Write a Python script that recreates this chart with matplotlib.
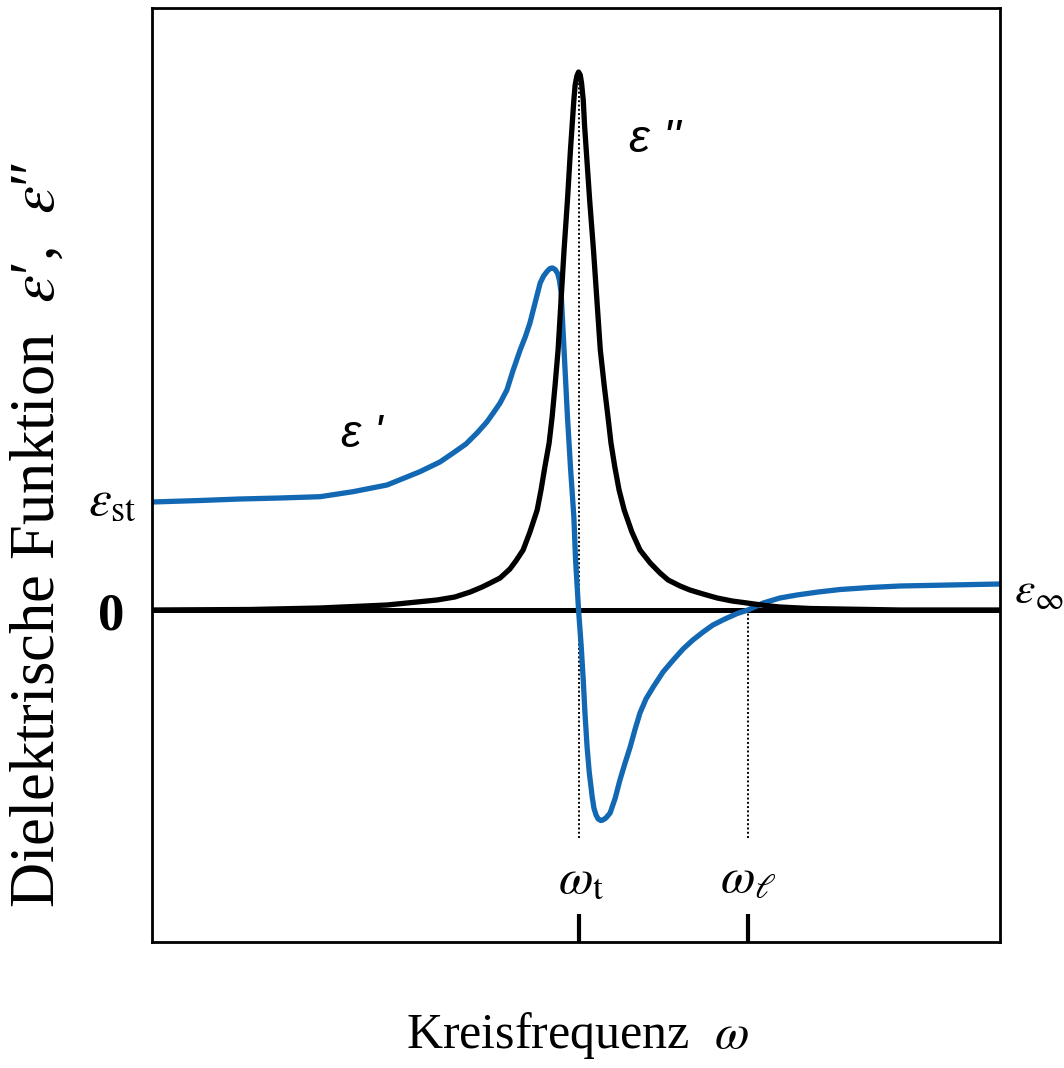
import matplotlib
matplotlib.use("Agg")
import matplotlib.pyplot as plt
import matplotlib.transforms as mtransforms

plt.rcParams['font.family'] = ['Liberation Serif', 'DejaVu Serif']
plt.rcParams['mathtext.fontset'] = 'stix'

# Frequencies in units of the transverse resonance omega_t
omega_t = 1.0
omega_l = 1.397
eps_st = 1.08
eps_inf = 0.26
eps_im_peak = 5.38
marker_depth = -2.28

# Real part eps'
omega_re = [0.000, 0.113, 0.206, 0.300, 0.394, 0.471, 0.551, 0.628, 0.675, 0.706,
            0.736, 0.762, 0.785, 0.800, 0.816, 0.832, 0.846, 0.863, 0.875, 0.886,
            0.898, 0.910, 0.918, 0.926, 0.933, 0.939, 0.945, 0.951, 0.955, 0.959,
            0.966, 0.974, 0.981, 0.989, 0.993, 1.000, 1.006, 1.011, 1.015, 1.020,
            1.025, 1.032, 1.036, 1.041, 1.046, 1.052, 1.057, 1.064, 1.074, 1.086,
            1.097, 1.109, 1.121, 1.132, 1.144, 1.158, 1.175, 1.198, 1.222, 1.245,
            1.268, 1.292, 1.315, 1.343, 1.372, 1.397, 1.433, 1.472, 1.512, 1.562,
            1.613, 1.683, 1.754, 1.871, 1.988]
eps_re = [1.08, 1.095, 1.11, 1.12, 1.133, 1.183, 1.25, 1.383, 1.48, 1.57,
          1.66, 1.77, 1.88, 1.97, 2.07, 2.20, 2.39, 2.60, 2.73, 2.87,
          3.07, 3.27, 3.34, 3.385, 3.415, 3.42, 3.405, 3.365, 3.30, 3.18,
          2.60, 1.93, 1.43, 0.93, 0.50, 0.00, -0.35, -0.70, -1.03, -1.37,
          -1.62, -1.87, -1.98, -2.05, -2.09, -2.105, -2.10, -2.08, -2.03, -1.88,
          -1.70, -1.53, -1.37, -1.20, -1.03, -0.89, -0.77, -0.62, -0.50, -0.39,
          -0.30, -0.22, -0.15, -0.09, -0.035, 0.00, 0.07, 0.12, 0.15, 0.18,
          0.205, 0.225, 0.24, 0.25, 0.26]

# Imaginary part eps''
omega_im = [0.000, 0.230, 0.394, 0.551, 0.668, 0.710, 0.746, 0.774, 0.793, 0.816,
            0.839, 0.853, 0.870, 0.886, 0.903, 0.912, 0.921, 0.931, 0.938, 0.945,
            0.952, 0.959, 0.966, 0.974, 0.981, 0.985, 0.989, 0.992, 0.996, 1.000,
            1.004, 1.007, 1.011, 1.014, 1.018, 1.026, 1.035, 1.043, 1.051, 1.060,
            1.069, 1.076, 1.085, 1.095, 1.107, 1.125, 1.144, 1.168, 1.191, 1.210,
            1.238, 1.261, 1.292, 1.325, 1.360, 1.395, 1.437, 1.472, 1.543, 1.613,
            1.754, 1.988]
eps_im = [0.00, 0.005, 0.02, 0.05, 0.10, 0.13, 0.18, 0.23, 0.27, 0.32,
          0.41, 0.49, 0.60, 0.78, 1.00, 1.20, 1.43, 1.67, 1.93, 2.25,
          2.60, 3.10, 3.60, 4.10, 4.60, 4.85, 5.10, 5.25, 5.34, 5.38,
          5.35, 5.27, 5.10, 4.85, 4.60, 4.10, 3.60, 3.10, 2.60, 2.25,
          1.93, 1.67, 1.43, 1.20, 1.00, 0.78, 0.60, 0.47, 0.37, 0.30,
          0.24, 0.20, 0.16, 0.12, 0.09, 0.07, 0.045, 0.03, 0.015, 0.01,
          0.00, 0.00]

blue = '#1268b3'

fig = plt.figure(figsize=(10.64, 10.68), dpi=100)
ax = fig.add_axes([152 / 1064, 1 - 942 / 1068, 848 / 1064, 934 / 1068])
ax.set_xlim(0, 1.988)
ax.set_ylim(-3.32, 6.02)

for s in ax.spines.values():
    s.set_linewidth(2.0)

ax.axhline(0, color='black', lw=3.6, zorder=1)
ax.vlines(omega_t, marker_depth, eps_im_peak, colors='black', linestyles=(0, (1, 1.2)),
          lw=1.4, zorder=1)
ax.vlines(omega_l, marker_depth, 0, colors='black', linestyles=(0, (1, 1.2)),
          lw=1.4, zorder=1)

ax.plot(omega_re, eps_re, color=blue, lw=3.8, solid_joinstyle='round',
        solid_capstyle='butt', zorder=2)
ax.plot(omega_im, eps_im, color='black', lw=3.8, solid_joinstyle='round',
        solid_capstyle='butt', zorder=3)

ax.set_xticks([omega_t, omega_l])
ax.set_yticks([])
ax.tick_params(axis='x', direction='in', length=20, width=3, labelbottom=False)

# frequency markers above the ticks
ax.text(omega_t + 0.007, -2.82, r'$\omega_{\mathrm{t}}$', ha='center', va='baseline', fontsize=36)
ax.text(omega_l, -2.82, r'$\omega_{\ell}$', ha='center', va='baseline', fontsize=36)

# curve labels
ax.text(0.492, 1.75, "ε '", family=['Liberation Sans', 'DejaVu Sans'], style='italic',
        fontsize=33, ha='center', va='center')
ax.text(1.178, 4.70, "ε ''", family=['Liberation Sans', 'DejaVu Sans'], style='italic',
        fontsize=34, ha='center', va='center')

# level labels at the axes edges
trans = mtransforms.blended_transform_factory(ax.transAxes, ax.transData)
ax.text(-0.018, 0.95, r'$\varepsilon_{\mathrm{st}}$', transform=trans, ha='right',
        va='baseline', fontsize=37)
ax.text(-0.032, -0.20, '0', transform=trans, ha='right', va='baseline', fontsize=38,
        fontweight='bold')
ax.text(1.016, 0.07, r'$\varepsilon_{\infty}$', transform=trans, ha='left',
        va='baseline', fontsize=33)

ax.text(0.502, -0.0996, r'Kreisfrequenz  $\omega$', transform=ax.transAxes,
        ha='center', va='center', fontsize=36)
ax.text(-0.134, 0.436, "Dielektrische Funktion  $\\varepsilon$\u2032,  $\\varepsilon$\u2033",
        transform=ax.transAxes, ha='center', va='center', fontsize=45, rotation=90)

fig.savefig('out.png', dpi=100)
